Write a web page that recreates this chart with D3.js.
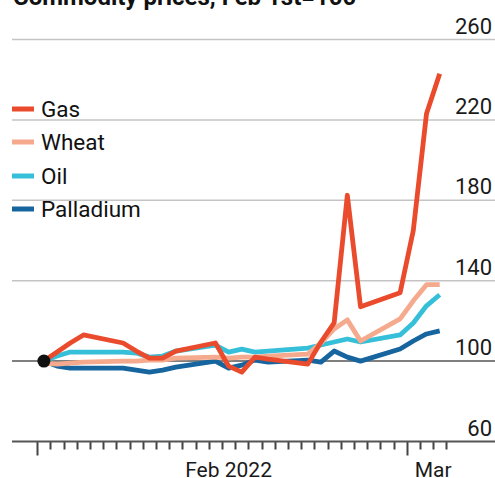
<!DOCTYPE html>
<html>
<head>
<meta charset="utf-8">
<script src="https://cdn.jsdelivr.net/npm/d3@7/dist/d3.min.js"></script>
<style>
  html, body { margin: 0; padding: 0; background: #fff; }
  svg { display: block; font-family: Roboto, "Noto Sans", sans-serif; }
</style>
</head>
<body>
<svg id="chart" width="495" height="478"></svg>
<script>
// Trading days, Feb 1st 2022 = 100
const dates = ["2022-02-01","2022-02-02","2022-02-03","2022-02-04",
  "2022-02-07","2022-02-08","2022-02-09","2022-02-10","2022-02-11",
  "2022-02-14","2022-02-15","2022-02-16","2022-02-17","2022-02-18",
  "2022-02-21","2022-02-22","2022-02-23","2022-02-24","2022-02-25",
  "2022-02-28","2022-03-01","2022-03-02","2022-03-03"];

const gas       = [100,104.5,109,113, 109,105,101.5,101.5,105, 109,97.5,94.5,102,101, 98.5,109.5,119,182.5,127, 134,165,223,243];
const wheat     = [99,98.5,99,99.5, 100,100,100.5,100.5,101.5, 102,101.5,102,102,102.5, 103.5,109,116,120.5,110, 121,130,138,138];
const oil       = [100,102.5,104.5,104.5, 104.5,104,102,102.5,105, 108,104.5,106,104.5,105, 106.5,108,109.5,111,109.5, 113,119,127.5,133];
const palladium = [100,97.5,96.5,96.5, 96.5,95.5,94.5,95.5,97, 100,96.5,98,100.5,99.5, 100.5,99.5,105,102,100, 106,110,113.5,115];

const seriesNames  = ["Gas", "Wheat", "Oil", "Palladium"];
const seriesValues = [gas, wheat, oil, palladium];
const seriesColors = ["#ea4b2c", "#f5aa8e", "#36bfd8", "#16659f"];

const yTicks = [60, 100, 140, 180, 220, 260];
const title = "Commodity prices, Feb 1st=100";

const W = 495, H = 478;
const svg = d3.select("#chart");

const parse = d3.utcParse("%Y-%m-%d");
const dayStart = parse("2022-02-01");
const monthNext = parse("2022-03-01");

// day boundaries are ticks; each trading day sits at the middle of its day
const x = d3.scaleUtc().domain([dayStart, monthNext]).range([37.3, 406.7]);
const y = d3.scaleLinear().domain([60, 260]).range([441.5, 39.5]);
const mid = d => d3.utcHour.offset(parse(d), 12);

// title (top of the frame)
svg.append("text")
  .attr("x", 13).attr("y", 5)
  .attr("font-size", 24).attr("font-weight", 700).attr("fill", "#111")
  .text(title);

// horizontal grid and value labels
const grid = svg.append("g");
yTicks.forEach(v => {
  const yy = y(v);
  if (v !== 60) {
    grid.append("line")
      .attr("x1", 12).attr("x2", W)
      .attr("y1", yy).attr("y2", yy)
      .attr("stroke", v === 100 ? "#555" : "#c4c4c4")
      .attr("stroke-width", 1.5);
  }
  grid.append("text")
    .attr("x", 492).attr("y", yy - 6)
    .attr("text-anchor", "end")
    .attr("font-size", 22).attr("fill", "#1a1a1a")
    .text(v);
});

// x axis: one tick per day boundary (Feb 1 .. Mar 4), longer at month starts
const axisY = y(60);
const tickDays = d3.range(0, 32).map(k => d3.utcDay.offset(dayStart, k));

svg.append("path")
  .attr("d", tickDays.map(d => {
    const tx = Math.round(x(d)) + 0.5;
    const len = d.getUTCDate() === 1 ? 14 : 8;
    return `M${tx},${axisY}V${axisY + len}`;
  }).join(""))
  .attr("fill", "none")
  .attr("stroke", "#444")
  .attr("stroke-width", 2);

svg.append("line")
  .attr("x1", 12).attr("x2", W)
  .attr("y1", axisY).attr("y2", axisY)
  .attr("stroke", "#555").attr("stroke-width", 2);

const monthLabels = [
  { text: "Feb 2022", at: d3.utcHour.offset(parse("2022-02-15"), 12) },
  { text: "Mar", at: parse("2022-03-03") }
];
svg.append("g").selectAll("text")
  .data(monthLabels).join("text")
  .attr("x", d => x(d.at)).attr("y", 477)
  .attr("text-anchor", "middle")
  .attr("font-size", 21).attr("fill", "#1a1a1a")
  .text(d => d.text);

// lines, gas on top
const line = d3.line()
  .x((d, i) => x(mid(dates[i])))
  .y(d => y(d));

const order = [3, 2, 1, 0];
svg.append("g").selectAll("path")
  .data(order).join("path")
  .attr("d", k => line(seriesValues[k]))
  .attr("fill", "none")
  .attr("stroke", k => seriesColors[k])
  .attr("stroke-width", 4.8)
  .attr("stroke-linejoin", "round")
  .attr("stroke-linecap", "butt");

// base point
svg.append("circle")
  .attr("cx", x(mid(dates[0]))).attr("cy", y(100))
  .attr("r", 6.5).attr("fill", "#111");

// legend
const legend = svg.append("g");
const legendY = [109, 142, 176, 209];
seriesNames.forEach((name, i) => {
  legend.append("line")
    .attr("x1", 12).attr("x2", 34)
    .attr("y1", legendY[i]).attr("y2", legendY[i])
    .attr("stroke", seriesColors[i]).attr("stroke-width", 5);
  legend.append("text")
    .attr("x", 41).attr("y", legendY[i] + 8)
    .attr("font-size", 22.5).attr("fill", "#111")
    .text(name);
});
</script>
</body>
</html>
